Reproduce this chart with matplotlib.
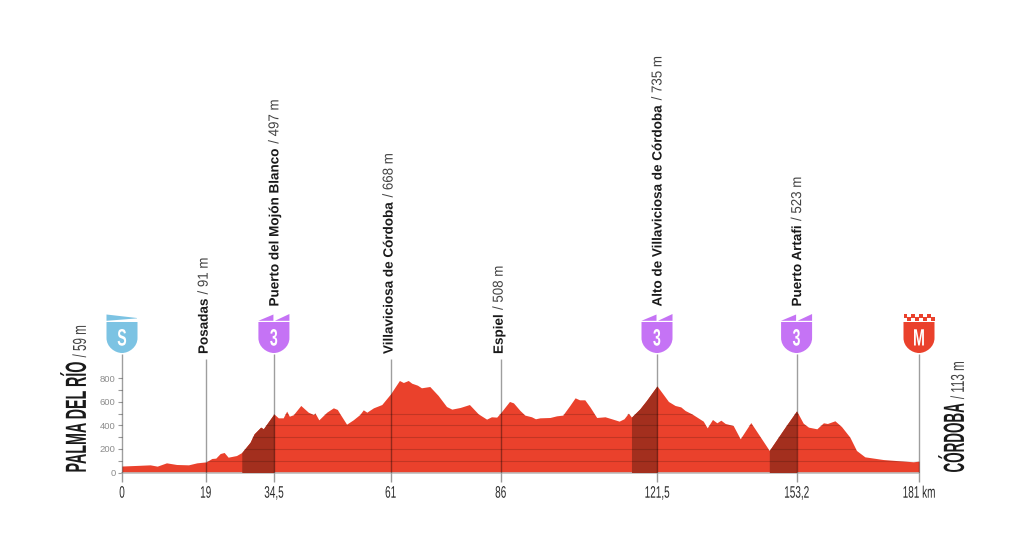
import numpy as np
import matplotlib
matplotlib.use('Agg')
import matplotlib.pyplot as plt
from matplotlib.patches import PathPatch, Polygon, Rectangle
from matplotlib.path import Path
from matplotlib.patheffects import AbstractPathEffect
from matplotlib.transforms import Affine2D

km = [0, 3.3, 6.4, 8.0, 10.1, 12.4, 15.1, 17.0, 19.1, 20.4, 21.3, 22.3, 23.2, 24.1, 26.0, 27.2,
      29.1, 30.0, 31.5, 32.1, 34.5, 35.5, 36.6, 37.4, 38.0, 38.9, 40.6, 42.3, 43.5, 43.8, 44.7,
      46.5, 48.0, 48.9, 49.5, 51.0, 52.5, 54.0, 54.8, 55.6, 57.1, 59.0, 61.0, 63.0, 63.9, 65.0,
      65.8, 67.1, 68.0, 69.9, 71.8, 73.7, 74.9, 76.8, 78.9, 80.9, 82.8, 83.9, 85.1, 86.0, 88.0,
      88.9, 90.4, 91.5, 93.0, 93.9, 94.9, 97.2, 98.7, 100.1, 101.7, 102.9, 103.9, 105.1, 106.3,
      107.8, 109.7, 111.2, 112.9, 114.0, 115.0, 115.7, 117.6, 119.1, 121.5, 124.1, 125.6, 126.9,
      127.9, 129.4, 132.0, 132.9, 134.1, 135.1, 136.0, 137.0, 138.8, 140.4, 142.8, 145.0, 147.0,
      150.6, 153.2, 154.7, 155.9, 157.8, 159.3, 160.2, 161.9, 163.4, 165.3, 166.8, 168.7, 172.9,
      176.7, 179.7, 181]
ele = [55, 60, 65, 54, 82, 68, 65, 82, 90, 119, 122, 161, 170, 130, 144, 170,
       257, 328, 385, 371, 497, 464, 464, 521, 478, 490, 569, 512, 492, 507, 447,
       512, 549, 535, 498, 410, 447, 492, 532, 512, 549, 577, 668, 781, 764, 781,
       758, 741, 719, 730, 654, 560, 538, 552, 577, 498, 453, 473, 470, 508, 603,
       591, 526, 487, 473, 456, 464, 467, 481, 487, 569, 634, 617, 617, 555,
       467, 473, 456, 436, 456, 504, 470, 540, 611, 735, 603, 569, 557,
       526, 498, 436, 379, 450, 422, 444, 416, 399, 286, 424, 300, 187,
       385, 523, 419, 385, 371, 422, 416, 439, 390, 300, 187, 133, 110,
       99, 91, 96]

climb_start = [27.2, 115.7, 147.0]
climb_end = [34.5, 121.5, 153.2]

tick_km = [0, 19, 34.5, 61, 86, 121.5, 153.2, 181]
tick_labels = ['0', '19', '34,5', '61', '86', '121,5', '153,2', '181 km']

point_km = [19, 34.5, 61, 86, 121.5, 153.2]
point_names = ['Posadas', 'Puerto del Mojón Blanco', 'Villaviciosa de Córdoba', 'Espiel',
               'Alto de Villaviciosa de Córdoba', 'Puerto Artafi']
point_alts = ['/ 91 m', '/ 497 m', '/ 668 m', '/ 508 m', '/ 735 m', '/ 523 m']
point_has_badge = [False, True, False, False, True, True]

badge_km = [0, 34.5, 121.5, 153.2, 181]
badge_text = ['S', '3', '3', '3', 'M']
badge_kind = ['start', 'climb', 'climb', 'climb', 'finish']

RED = '#EA412C'
DARK = '#A32F1E'
PURPLE = '#C573F5'
BLUE = '#7CC3E3'
NARROW = ['Liberation Sans Narrow', 'Liberation Sans']


class Squeeze(AbstractPathEffect):
    # narrows the glyphs along the text direction, the source font is condensed
    def __init__(self, sx, center=False):
        super().__init__()
        self.sx = sx
        self.center = center

    def draw_path(self, renderer, gc, tpath, affine, rgbFace=None):
        ext = tpath.get_extents()
        cx = (ext.x0 + ext.x1) / 2 if self.center else 0
        tr = Affine2D().translate(-cx, 0).scale(self.sx, 1).translate(cx, 0) + affine
        renderer.draw_path(gc, tpath, tr, rgbFace)


fig = plt.figure(figsize=(10.24, 5.46), dpi=100, facecolor='white')
# 1 km = 4.403 px, 100 m = 11.78 px
ax = fig.add_axes([122 / 1024, (546 - 472.5) / 546, 797 / 1024, 472.5 / 546])
ax.set_xlim(0, 181)
ax.set_ylim(0, 472.5 / 0.1178)
ax.patch.set_visible(False)
for s in ['top', 'right', 'left']:
    ax.spines[s].set_visible(False)
ax.spines['bottom'].set_color('#bdbdbd')
ax.spines['bottom'].set_linewidth(1.2)

km_arr = np.array(km)
ele_arr = np.array(ele)
ax.fill_between(km_arr, 0, ele_arr, color=RED, lw=0, zorder=2)

for a, b in zip(climb_start, climb_end):
    m = (km_arr >= a) & (km_arr <= b)
    ax.fill_between(km_arr[m], 0, ele_arr[m], color=DARK, lw=0, zorder=3)

clip = Polygon(np.column_stack([[0] + km + [181], [0] + ele + [0]]), closed=True,
               transform=ax.transData)
for h in [100, 200, 300, 400, 500]:
    ln = ax.axhline(h, color='black', alpha=0.17, lw=0.8, zorder=4)
    ln.set_clip_path(clip)

# vertical lines of the marked points
tops = [963 if not b else 1010 for b in point_has_badge]
ax.vlines(point_km, 0, tops, color='black', alpha=0.38, lw=1.0, zorder=5, clip_on=False)
ax.vlines([0, 181], 0, 1010, color='black', alpha=0.38, lw=1.0, zorder=5, clip_on=False)

ax.set_xticks(tick_km)
ax.set_xticklabels(tick_labels, family=NARROW, fontsize=12, color='#2a2a2a')
ax.tick_params(axis='x', length=6.5, width=1.0, color='#9a9a9a', pad=3)
for t in ax.get_xticklabels():
    t.set_path_effects([Squeeze(0.6, center=True)])

ax.set_yticks([0, 200, 400, 600, 800])
ax.set_yticks([100, 300, 500, 700], minor=True)
ax.set_yticklabels(['0', '200', '400', '600', '800'], family='Liberation Sans', fontsize=6.8,
                   color='#8c8c8c')
ax.tick_params(axis='y', which='both', length=3.2, width=0.8, color='#9a9a9a', pad=1.5)
ax.yaxis.set_ticks_position('left')

renderer = fig.canvas.get_renderer()


def rotated_pair(x, y, bold, light, size, light_size, bold_family, sx, sx_light, color='#1a1a1a',
                 gap=4):
    t = ax.text(x, y, bold, rotation=90, rotation_mode='anchor', ha='left', va='baseline',
                family=bold_family, fontweight='bold', fontsize=size, color=color, clip_on=False,
                zorder=6)
    t.set_path_effects([Squeeze(sx)])
    length = t.get_window_extent(renderer).height * sx
    ax.annotate(light, xy=(x, y), xytext=(0, (length + gap) * 0.72), textcoords='offset points',
                rotation=90, rotation_mode='anchor', ha='left', va='baseline', family=NARROW,
                fontsize=light_size, color='#444444', annotation_clip=False, zorder=6,
                path_effects=[Squeeze(sx_light)])


for k, name, alt, has_badge in zip(point_km, point_names, point_alts, point_has_badge):
    base = 166 / 0.1178 if has_badge else 118.5 / 0.1178
    shift = (4.5 if has_badge else 2.0) / 4.403
    rotated_pair(k + shift, base, name, alt, 9.7, 10.4, 'Liberation Sans', 1.0, 0.92)

rotated_pair(-8.2, 0, 'PALMA DEL RÍO', '/ 59 m', 21, 13.5, NARROW, 0.49, 0.62)
rotated_pair(191.2, 0, 'CÓRDOBA', '/ 113 m', 21, 13.5, NARROW, 0.46, 0.62)


def badge(k, letter, kind):
    x0, y0 = ax.transData.transform((k, 0))
    # pixels, origin on the tip of the shield, y up
    base = Affine2D().translate(x0, y0 + 119.5)
    col = {'start': BLUE, 'climb': PURPLE, 'finish': RED}[kind]
    verts = [(-15.5, 31), (15.5, 31), (15.5, 15), (15.5, 6), (7, 0), (0, 0), (-7, 0), (-15.5, 6),
             (-15.5, 15), (-15.5, 31)]
    codes = [Path.MOVETO, Path.LINETO, Path.LINETO, Path.CURVE4, Path.CURVE4, Path.CURVE4,
             Path.CURVE4, Path.CURVE4, Path.CURVE4, Path.CLOSEPOLY]
    ax.add_patch(PathPatch(Path(verts, codes), fc=col, lw=0, transform=base, zorder=7, clip_on=False))
    if kind == 'start':
        top = [[(-15.5, 32.2), (-15.5, 38.5), (15, 35), (15, 34.6)]]
    elif kind == 'climb':
        top = [[(-15.5, 32.2), (-0.5, 38.5), (-0.5, 32.2)], [(1, 32.2), (15.5, 39), (15.5, 32.2)]]
    else:
        top = []
        for col_i in range(8):
            left = -15.5 + col_i * 3.875
            row = 35.5 if col_i % 2 == 0 else 32.2
            ax.add_patch(Rectangle((left, row), 3.875, 3.4, fc=col, lw=0, transform=base, zorder=7,
                                   clip_on=False))
    for poly in top:
        ax.add_patch(Polygon(poly, closed=True, fc=col, lw=0, transform=base, zorder=7, clip_on=False))
    ax.annotate(letter, xy=(k, 0), xytext=(0, (119.5 + 7.5) * 0.72), textcoords='offset points',
                ha='center', va='baseline', family=NARROW, fontweight='bold', fontsize=17,
                color='white', annotation_clip=False, zorder=8,
                path_effects=[Squeeze(0.6, center=True)])


for k, letter, kind in zip(badge_km, badge_text, badge_kind):
    badge(k, letter, kind)

fig.savefig('out.png', dpi=100, facecolor='white')
